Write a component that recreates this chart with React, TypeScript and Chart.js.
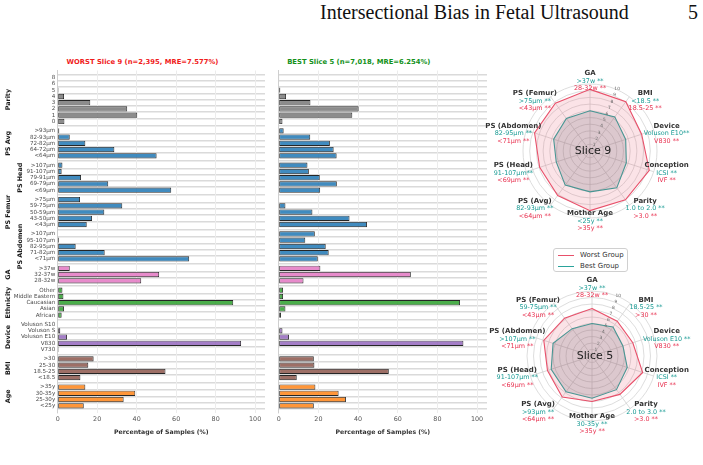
import React, { useEffect, useRef } from 'react';
import { Chart, registerables } from 'chart.js';

Chart.register(...registerables);
Chart.defaults.font.family = '"DejaVu Sans", sans-serif';

// ---------------- Bar chart data ----------------
const groupNames = ['Parity', 'PS Avg', 'PS Head', 'PS Femur', 'PS Abdomen', 'GA', 'Ethnicity', 'Device', 'BMI', 'Age'];

const parityCats = ['8', '6', '5', '4', '3', '2', '1', '0'];
const psAvgCats = ['>93µm', '82-93µm', '72-82µm', '64-72µm', '<64µm'];
const psHeadCats = ['>107µm', '91-107µm', '79-91µm', '69-79µm', '<69µm'];
const psFemurCats = ['>75µm', '59-75µm', '50-59µm', '43-50µm', '<43µm'];
const psAbdomenCats = ['>107µm', '95-107µm', '82-95µm', '71-82µm', '<71µm'];
const gaCats = ['>37w', '32-37w', '28-32w'];
const ethnicityCats = ['Other', 'Middle Eastern', 'Caucasian', 'Asian', 'African'];
const deviceCats = ['Voluson S10', 'Voluson S', 'Voluson E10', 'V830', 'V730'];
const bmiCats = ['>30', '25-30', '18.5-25', '<18.5'];
const ageCats = ['>35y', '30-35y', '25-30y', '<25y'];

// WORST slice 9
const worstParity = [0, 0, 0.5, 3.2, 16.5, 35.2, 40.3, 3.4];
const worstPsAvg = [0.8, 6.1, 14.0, 28.7, 50.1];
const worstPsHead = [2.4, 2.0, 11.8, 25.6, 57.5];
const worstPsFemur = [11.3, 32.7, 23.6, 17.4, 14.7];
const worstPsAbdomen = [0, 0.7, 9.1, 23.8, 66.6];
const worstGa = [6.1, 51.4, 42.3];
const worstEthnicity = [2.4, 2.9, 88.9, 3.2, 2.0];
const worstDevice = [0, 1.3, 4.7, 92.9, 0.5];
const worstBmi = [18.2, 15.5, 54.6, 11.5];
const worstAge = [14.0, 39.3, 33.4, 13.2];

// BEST slice 5
const bestParity = [0.2, 0, 0.8, 3.7, 16.0, 40.3, 37.1, 1.9];
const bestPsAvg = [2.5, 15.9, 25.8, 27.7, 29.2];
const bestPsHead = [14.5, 15.2, 20.7, 29.3, 20.9];
const bestPsFemur = [0.2, 3.4, 17.0, 35.7, 44.5];
const bestPsAbdomen = [18.2, 13.4, 23.7, 25.2, 19.7];
const bestGa = [21.0, 66.6, 12.5];
const bestEthnicity = [2.2, 2.2, 91.4, 3.4, 1.2];
const bestDevice = [0, 1.9, 5.2, 93.1, 0.3];
const bestBmi = [17.7, 18.0, 55.5, 9.1];
const bestAge = [18.5, 30.2, 33.9, 17.7];

const xTickValues = [0, 20, 40, 60, 80, 100];

// ---------------- Radar data ----------------
const radarAxes = ['GA', 'BMI', 'Device', 'Conception', 'Parity', 'Mother Age', 'PS (Avg)', 'PS (Head)', 'PS (Abdomen)', 'PS (Femur)'];
const radarTicks = [1, 2, 3, 4, 5, 6, 7, 8, 9, 10];

const slice9Worst = [9.2, 9.1, 8.1, 9.3, 9.0, 8.9, 8.2, 7.9, 8.7, 8.8];
const slice9Best = [6.0, 6.3, 5.6, 5.7, 6.8, 6.1, 6.3, 5.3, 5.7, 6.0];
const slice9BestText = ['>37w **', '<18.5 **', 'Voluson E10**', 'ICSI **', '1.0 to 2.0 **', '<25y **', '82-93µm **', '91-107µm**', '82-95µm **', '>75µm **'];
const slice9WorstText = ['28-32w **', '18.5-25 **', 'V830 **', 'IVF **', '>3.0 **', '>35y **', '<64µm **', '<69µm **', '<71µm **', '<43µm **'];

const slice5Worst = [7.3, 6.6, 6.6, 8.2, 7.3, 7.0, 7.8, 7.2, 7.8, 7.2];
const slice5Best = [5.0, 5.5, 5.0, 5.7, 6.4, 6.5, 6.8, 6.6, 6.3, 5.2];
const slice5BestText = ['>37w **', '18.5-25 **', 'Voluson E10 **', 'ICSI **', '2.0 to 3.0 **', '30-35y **', '>93µm **', '91-107µm **', '>107µm **', '59-75µm **'];
const slice5WorstText = ['28-32w **', '>30 **', 'V830 **', 'IVF **', '>3.0 **', '>35y **', '<64µm **', '<69µm **', '<71µm **', '<43µm **'];

// ---------------- Styles ----------------
const groupColors = [
  'rgba(128,128,128,0.9)',
  'rgba(31,119,180,0.85)',
  'rgba(31,119,180,0.85)',
  'rgba(31,119,180,0.85)',
  'rgba(31,119,180,0.85)',
  'rgba(227,119,194,0.85)',
  'rgba(44,160,44,0.85)',
  'rgba(148,103,189,0.85)',
  'rgba(140,86,75,0.85)',
  'rgba(255,127,14,0.82)',
];
const groupLabelX = [8, 8, 20, 8, 20, 8, 8, 8, 8, 8];
const GROUP_GAP = 0.5;
const RED_LINE = '#e8506a';
const TEAL_LINE = '#2aa39b';
const RED_TEXT = '#e8304f';
const TEAL_TEXT = '#179a93';

const groupCats = [parityCats, psAvgCats, psHeadCats, psFemurCats, psAbdomenCats, gaCats, ethnicityCats, deviceCats, bmiCats, ageCats];
const worstVals = [worstParity, worstPsAvg, worstPsHead, worstPsFemur, worstPsAbdomen, worstGa, worstEthnicity, worstDevice, worstBmi, worstAge];
const bestVals = [bestParity, bestPsAvg, bestPsHead, bestPsFemur, bestPsAbdomen, bestGa, bestEthnicity, bestDevice, bestBmi, bestAge];

type Row = { label: string; value: number; pos: number; group: number };

function buildRows(vals: number[][]): Row[] {
  const rows: Row[] = [];
  let idx = 0;
  groupCats.forEach((cats, g) => {
    cats.forEach((c, i) => {
      rows.push({ label: c, value: vals[g][i], pos: idx + g * GROUP_GAP, group: g });
      idx++;
    });
  });
  return rows;
}

function BarPanel(props: { vals: number[][]; showLabels: boolean; left: number; width: number; yWidth: number }) {
  const ref = useRef<HTMLCanvasElement>(null);
  useEffect(() => {
    const rows = buildRows(props.vals);
    const lastPos = rows[rows.length - 1].pos;
    const groupPlugin = {
      id: 'groupLabels',
      afterDraw(chart: any) {
        if (!props.showLabels) return;
        const y = chart.scales.y;
        const ctx = chart.ctx;
        ctx.save();
        ctx.font = 'bold 6.4px "DejaVu Sans"';
        ctx.fillStyle = '#1a1a1a';
        ctx.textAlign = 'center';
        ctx.textBaseline = 'middle';
        groupNames.forEach((name, g) => {
          const gr = rows.filter((r) => r.group === g);
          const cy = (y.getPixelForValue(gr[0].pos) + y.getPixelForValue(gr[gr.length - 1].pos)) / 2;
          ctx.save();
          ctx.translate(groupLabelX[g], cy);
          ctx.rotate(-Math.PI / 2);
          ctx.fillText(name, 0, 0);
          ctx.restore();
        });
        ctx.restore();
      },
    };
    const chart = new Chart(ref.current as HTMLCanvasElement, {
      type: 'bar',
      data: {
        datasets: [
          {
            data: rows.map((r) => ({ x: r.value, y: r.pos })) as any,
            backgroundColor: rows.map((r) => groupColors[r.group]),
            borderColor: '#262626',
            borderWidth: 0.9,
            borderSkipped: false,
            barPercentage: 0.84,
            categoryPercentage: 1,
          } as any,
        ],
      },
      options: {
        indexAxis: 'y',
        animation: false,
        responsive: false,
        maintainAspectRatio: false,
        layout: { padding: { top: 10.5, right: 3, left: 0, bottom: 0 } },
        plugins: { legend: { display: false }, tooltip: { enabled: false } },
        scales: {
          y: {
            type: 'linear',
            reverse: true,
            min: -0.6,
            max: lastPos + 0.6,
            afterBuildTicks: (s: any) => {
              s.ticks = rows.map((r) => ({ value: r.pos }));
            },
            afterFit: (s: any) => {
              s.width = props.yWidth;
            },
            ticks: {
              display: props.showLabels,
              autoSkip: false,
              callback: (_v: any, i: number) => (rows[i] ? rows[i].label : ''),
              font: { size: 5.6 },
              color: '#4a4a4a',
              padding: 2.5,
            },
            grid: { color: '#dadada', lineWidth: 1.4, drawTicks: false },
            border: { display: true, color: '#cfcfcf' },
          },
          x: {
            type: 'linear',
            min: 0,
            max: 105,
            afterBuildTicks: (s: any) => {
              s.ticks = xTickValues.map((v) => ({ value: v }));
            },
            afterFit: (s: any) => {
              s.height = 32;
            },
            ticks: { font: { size: 6.4 }, color: '#555', padding: 3 },
            grid: { color: '#ececec', lineWidth: 1, drawTicks: false },
            border: { display: false },
            title: {
              display: true,
              text: 'Percentage of Samples (%)',
              font: { size: 6.2, weight: 'bold' },
              color: '#333',
              padding: { top: 2, bottom: 9.3 },
            },
          },
        },
      } as any,
      plugins: [groupPlugin],
    });
    return () => chart.destroy();
  }, []);
  return (
    <canvas
      ref={ref}
      width={props.width}
      height={385}
      style={{ position: 'absolute', left: props.left, top: 60, width: props.width, height: 385 }}
    />
  );
}

function RadarPanel(props: {
  worst: number[];
  best: number[];
  worstText: string[];
  bestText: string[];
  centerText: string;
  top: number;
  height: number;
  pad: { left: number; right: number; top: number; bottom: number };
}) {
  const ref = useRef<HTMLCanvasElement>(null);
  useEffect(() => {
    const textPlugin = {
      id: 'radarText',
      afterDatasetsDraw(chart: any) {
        const s = chart.scales.r;
        const ctx = chart.ctx;
        ctx.save();
        ctx.textAlign = 'center';
        ctx.textBaseline = 'middle';
        // radial tick labels
        ctx.font = '4.4px "DejaVu Sans"';
        ctx.fillStyle = '#666';
        const ta = (22.5 * Math.PI) / 180;
        radarTicks.forEach((v) => {
          const r = s.getDistanceFromCenterForValue(v);
          ctx.fillText(String(v), s.xCenter + Math.sin(ta) * r + 1.5, s.yCenter - Math.cos(ta) * r);
        });
        // center text
        ctx.font = '11px "DejaVu Sans"';
        ctx.fillStyle = '#222';
        ctx.fillText(props.centerText, s.xCenter + 3, s.yCenter);
        // axis label blocks
        const n = radarAxes.length;
        radarAxes.forEach((name, i) => {
          const a = (i / n) * Math.PI * 2;
          const sa = Math.sin(a);
          const ca = Math.cos(a);
          const rL = s.drawingArea + 3 + 2 * Math.abs(sa);
          const p = s.getPointPosition(i, rL);
          const x = p.x + 14 * Math.sign(sa) * Math.abs(Math.sin(2 * a));
          const y = p.y + 16 * Math.max(ca, 0) * Math.abs(sa);
          ctx.font = 'bold 7px "DejaVu Sans"';
          ctx.fillStyle = '#333';
          ctx.fillText(name, x, y - 7.6);
          ctx.font = '6.4px "DejaVu Sans"';
          ctx.fillStyle = TEAL_TEXT;
          ctx.fillText(props.bestText[i], x, y);
          ctx.fillStyle = RED_TEXT;
          ctx.fillText(props.worstText[i], x, y + 7.6);
        });
        ctx.restore();
      },
    };
    const chart = new Chart(ref.current as HTMLCanvasElement, {
      type: 'radar',
      data: {
        labels: radarAxes,
        datasets: [
          {
            label: 'Worst Group',
            data: props.worst,
            borderColor: RED_LINE,
            backgroundColor: 'rgba(232,80,106,0.16)',
            borderWidth: 1.1,
            pointRadius: 0,
            fill: true,
          },
          {
            label: 'Best Group',
            data: props.best,
            borderColor: TEAL_LINE,
            backgroundColor: 'rgba(70,95,105,0.2)',
            borderWidth: 1.1,
            pointRadius: 0,
            fill: true,
          },
        ],
      },
      options: {
        animation: false,
        responsive: false,
        maintainAspectRatio: false,
        layout: { padding: props.pad },
        plugins: { legend: { display: false }, tooltip: { enabled: false } },
        scales: {
          r: {
            min: 0,
            max: 10,
            ticks: { display: false, stepSize: 1 },
            pointLabels: { display: false },
            grid: { color: '#d4d4d4', lineWidth: 0.8, circular: true },
            angleLines: { color: '#d0d0d0', lineWidth: 0.8 },
          },
        },
      } as any,
      plugins: [textPlugin],
    });
    return () => chart.destroy();
  }, []);
  return (
    <canvas
      ref={ref}
      width={223}
      height={props.height}
      style={{ position: 'absolute', left: 480, top: props.top, width: 223, height: props.height }}
    />
  );
}

export default function App() {
  const abs = (o: any) => ({ position: 'absolute' as const, whiteSpace: 'nowrap' as const, ...o });
  return (
    <div
      style={{
        position: 'fixed',
        left: 0,
        top: 0,
        width: 703,
        height: 465,
        background: '#fff',
        overflow: 'hidden',
        fontFamily: '"DejaVu Sans", sans-serif',
      }}
    >
      <div style={abs({ left: 320, top: 2, fontFamily: '"Liberation Serif", serif', fontSize: 20, lineHeight: '20px', color: '#111' })}>
        Intersectional Bias in Fetal Ultrasound
      </div>
      <div style={abs({ left: 688, top: 2, fontFamily: '"Liberation Serif", serif', fontSize: 20, lineHeight: '20px', color: '#111' })}>5</div>

      <div style={abs({ left: 142.5, top: 58, transform: 'translateX(-50%)', fontSize: 6.8, lineHeight: '8px', fontWeight: 'bold', color: '#f01c1c' })}>
        WORST Slice 9 (n=2,395, MRE=7.577%)
      </div>
      <div style={abs({ left: 358.8, top: 58, transform: 'translateX(-50%)', fontSize: 6.8, lineHeight: '8px', fontWeight: 'bold', color: '#13911a' })}>
        BEST Slice 5 (n=7,018, MRE=6.254%)
      </div>

      <BarPanel vals={worstVals} showLabels={true} left={0} width={268} yWidth={57.7} />
      <BarPanel vals={bestVals} showLabels={false} left={272} width={218} yWidth={6.7} />

      <RadarPanel
        worst={slice9Worst}
        best={slice9Best}
        worstText={slice9WorstText}
        bestText={slice9BestText}
        centerText="Slice 9"
        top={60}
        height={190}
        pad={{ left: 43, right: 46, top: 24, bottom: 32 }}
      />
      <RadarPanel
        worst={slice5Worst}
        best={slice5Best}
        worstText={slice5WorstText}
        bestText={slice5BestText}
        centerText="Slice 5"
        top={268}
        height={197}
        pad={{ left: 47, right: 46, top: 23, bottom: 44 }}
      />

      <div
        style={abs({
          left: 553,
          top: 248,
          width: 75,
          height: 24,
          border: '1px solid #d0d0d0',
          borderRadius: 3,
          boxSizing: 'border-box',
          background: '#fff',
        })}
      >
        <div style={abs({ left: 4, top: 5.5, width: 16, height: 0, borderTop: `1.2px solid ${RED_LINE}` })} />
        <div style={abs({ left: 26, top: 2, fontSize: 7, lineHeight: '8px', color: '#333' })}>Worst Group</div>
        <div style={abs({ left: 4, top: 16.5, width: 16, height: 0, borderTop: `1.2px solid ${TEAL_LINE}` })} />
        <div style={abs({ left: 26, top: 13, fontSize: 7, lineHeight: '8px', color: '#333' })}>Best Group</div>
      </div>
    </div>
  );
}
